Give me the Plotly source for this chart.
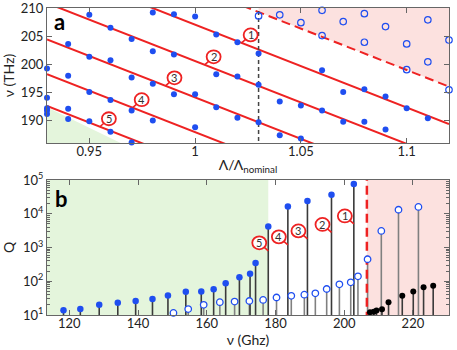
import plotly.graph_objects as go
import math

# ---------------- Panel a data ----------------
lam_filled = [0.93, 0.93, 0.93, 0.93, 0.93,
              0.94, 0.94, 0.94, 0.94,
              0.95, 0.95, 0.95, 0.95,
              0.96, 0.96, 0.96, 0.96,
              0.97, 0.97, 0.97, 0.97,
              0.98, 0.98, 0.98, 0.98,
              0.99, 0.99, 0.99,
              1.00, 1.00, 1.00,
              1.01, 1.01, 1.01,
              1.02, 1.02, 1.02,
              1.03, 1.03, 1.03,
              1.04, 1.04,
              1.05, 1.05,
              1.06, 1.06,
              1.07, 1.07,
              1.08, 1.08,
              1.09, 1.09,
              1.10, 1.11]
nu_filled = [199.2, 194.0, 192.1, 191.7, 191.1,
             203.6, 197.9, 192.0, 190.2,
             208.8, 201.3, 195.0, 189.8,
             206.5, 200.7, 193.6, 187.9,
             204.5, 197.6, 191.7, 186.0,
             209.2, 202.3, 196.5, 189.9,
             208.9, 201.7, 194.6,
             208.5, 194.6, 188.7,
             205.3, 198.2, 192.3,
             203.9, 197.8, 190.4,
             201.9, 196.3, 189.6,
             193.3, 187.3,
             192.6, 186.7,
             198.9, 191.7,
             195.0, 189.7,
             195.5, 189.7,
             194.2, 188.3,
             192.1, 190.3]
lam_open = [1.03, 1.04, 1.05, 1.06, 1.06, 1.07, 1.08, 1.08, 1.09,
            1.10, 1.10, 1.11, 1.11, 1.12, 1.12]
nu_open = [208.6, 208.8, 207.4, 209.6, 205.1, 207.6, 209.0, 203.9, 206.7,
           203.6, 199.0, 207.9, 200.4, 204.3, 195.4]

line_names = ["1", "2", "3", "4", "5"]
line_nu_start = [217.4, 210.9, 204.4, 198.2, 192.5]   # value at lam_start
dashed_nu_start = 224.1
line_slope = -148.0
lam_start, lam_end = 0.93, 1.12
lam_cut = 1.03
label_lam = [1.022, 1.0045, 0.986, 0.9705, 0.955]
green_a_lam = [0.93, 0.93, 0.9697]
green_a_nu = [192.3, 185.0, 185.0]

# ---------------- Panel b data ----------------
nu_b_filled = [118.3, 123.2, 128.7, 134.1, 139.3, 144.2, 148.7, 153.9, 158.4,
               162.0, 165.5, 169.5, 172.6, 174.2, 177.9, 183.6, 189.3, 196.3, 202.8]
q_b_filled = [13.8, 15, 20, 23, 26, 30, 38, 49, 50,
              58, 87, 131, 166, 347, 4200, 16600, 24000, 37000, 77000]
nu_b_open = [150.3, 154.6, 159.1, 163.8, 168.1, 172.4, 176.4, 180.3, 184.6, 188.4,
             191.6, 194.9, 198.6, 201.9, 204.0, 206.8, 210.8, 215.8, 221.6]
q_b_open = [11.5, 15, 20, 24, 25, 26, 28, 33, 37, 40,
            44, 59, 81, 93, 140, 450, 3100, 13200, 16000]
nu_b_black = [207.5, 208.6, 209.4, 211.0, 212.9, 216.9, 220.1, 223.1, 225.9]
q_b_black = [12, 12.5, 13.5, 14.8, 24, 37, 50, 66, 74]
green_b_edge = 177.9
cutoff_b = 206.6
label_b_nu = [202.8, 196.3, 189.3, 183.6, 177.9]
label_b_q = [5000, 2800, 1800, 1200, 800]

# ---------------- Styles ----------------
BLUE = "#1f4ef0"
RED = "#ee2222"
GREEN = "#e4f5dc"
PINK = "#fce1df"
AXC = "#666666"
FONT = "Lato, 'Open Sans', sans-serif"

fig = go.Figure()

# Panel a shading
fig.add_trace(go.Scatter(x=green_a_lam, y=green_a_nu, fill="toself", fillcolor=GREEN,
                         mode="lines", line=dict(width=0), hoverinfo="skip",
                         xaxis="x", yaxis="y"))
def dashed_line(l):
    return dashed_nu_start + line_slope * (l - lam_start)
pink_x = [lam_cut, lam_end + 0.01, lam_end + 0.01, lam_cut]
pink_y = [211, 211, dashed_line(lam_end + 0.01), dashed_line(lam_cut)]
fig.add_trace(go.Scatter(x=pink_x, y=pink_y, fill="toself", fillcolor=PINK,
                         mode="lines", line=dict(width=0), hoverinfo="skip",
                         xaxis="x", yaxis="y"))

# Red mode lines
for v0 in line_nu_start:
    fig.add_trace(go.Scatter(x=[lam_start, lam_end],
                             y=[v0, v0 + line_slope * (lam_end - lam_start)],
                             mode="lines", line=dict(color=RED, width=2),
                             xaxis="x", yaxis="y"))
fig.add_trace(go.Scatter(x=[lam_start, lam_end],
                         y=[dashed_nu_start, dashed_line(lam_end)],
                         mode="lines", line=dict(color=RED, width=2, dash="9px,5px"),
                         xaxis="x", yaxis="y"))
# vertical black dashed line
fig.add_trace(go.Scatter(x=[lam_cut, lam_cut], y=[180, 215], mode="lines",
                         line=dict(color="#444444", width=1.5, dash="4px,3px"),
                         xaxis="x", yaxis="y"))

fig.add_trace(go.Scatter(x=lam_filled, y=nu_filled, mode="markers",
                         marker=dict(symbol="circle", size=6, color=BLUE),
                         cliponaxis=False, xaxis="x", yaxis="y"))
fig.add_trace(go.Scatter(x=lam_open, y=nu_open, mode="markers",
                         marker=dict(symbol="circle-open", size=6.5, color=BLUE,
                                     line=dict(width=1.2)),
                         cliponaxis=False, xaxis="x", yaxis="y"))

# Panel b shading
fig.add_trace(go.Scatter(x=[100, green_b_edge, green_b_edge, 100], y=[1, 1, 1e6, 1e6],
                         fill="toself", fillcolor=GREEN, mode="lines", line=dict(width=0),
                         hoverinfo="skip", xaxis="x2", yaxis="y2"))
fig.add_trace(go.Scatter(x=[cutoff_b, 240, 240, cutoff_b], y=[1, 1, 1e6, 1e6],
                         fill="toself", fillcolor=PINK, mode="lines", line=dict(width=0),
                         hoverinfo="skip", xaxis="x2", yaxis="y2"))

def stems(xs, ys):
    sx, sy = [], []
    for a, b in zip(xs, ys):
        sx += [a, a, None]
        sy += [1, b, None]
    return sx, sy

sx, sy = stems(nu_b_open, q_b_open)
fig.add_trace(go.Scatter(x=sx, y=sy, mode="lines", line=dict(color="#808080", width=1.6),
                         xaxis="x2", yaxis="y2"))
sx, sy = stems(nu_b_filled + nu_b_black, q_b_filled + q_b_black)
fig.add_trace(go.Scatter(x=sx, y=sy, mode="lines", line=dict(color="#3a3a3a", width=1.6),
                         xaxis="x2", yaxis="y2"))
fig.add_trace(go.Scatter(x=[cutoff_b, cutoff_b], y=[1, 1e6], mode="lines",
                         line=dict(color=RED, width=2.5, dash="9px,5px"),
                         xaxis="x2", yaxis="y2"))
fig.add_trace(go.Scatter(x=nu_b_filled, y=q_b_filled, mode="markers",
                         marker=dict(symbol="circle", size=6.5, color=BLUE),
                         cliponaxis=False, xaxis="x2", yaxis="y2"))
fig.add_trace(go.Scatter(x=nu_b_open, y=q_b_open, mode="markers",
                         marker=dict(symbol="circle", size=6.5, color="white",
                                     line=dict(color=BLUE, width=1.3)),
                         cliponaxis=False, xaxis="x2", yaxis="y2"))
fig.add_trace(go.Scatter(x=nu_b_black, y=q_b_black, mode="markers",
                         marker=dict(symbol="circle", size=6, color="black"),
                         cliponaxis=False, xaxis="x2", yaxis="y2"))

annotations = []
shapes = []
R = 7
# Panel a circled labels
for name, v0, lam in zip(line_names, line_nu_start, label_lam):
    y = v0 + line_slope * (lam - lam_start)
    ax, ay = 9, -8
    annotations.append(dict(x=lam, y=y, xref="x", yref="y", text=name, showarrow=True,
                            ax=ax, ay=ay, arrowhead=0, arrowwidth=1.6, arrowcolor=RED,
                            font=dict(size=11, color="#333333", family=FONT)))
    shapes.append(dict(type="circle", xref="x", yref="y", xsizemode="pixel",
                       ysizemode="pixel", xanchor=lam, yanchor=y,
                       x0=ax - R, x1=ax + R, y0=-ay - 6.5, y1=-ay + 6.5,
                       line=dict(color=RED, width=1.8), fillcolor="white", layer="above"))
# Panel b circled labels
for name, nu, q in zip(line_names, label_b_nu, label_b_q):
    ax, ay = -9, -8
    annotations.append(dict(x=nu, y=math.log10(q), xref="x2", yref="y2", text=name,
                            showarrow=True, ax=ax, ay=ay, arrowhead=0, arrowwidth=1.6,
                            arrowcolor=RED,
                            font=dict(size=11, color="#333333", family=FONT)))
    shapes.append(dict(type="circle", xref="x2", yref="y2", xsizemode="pixel",
                       ysizemode="pixel", xanchor=nu, yanchor=q,
                       x0=ax - R, x1=ax + R, y0=-ay - 6.5, y1=-ay + 6.5,
                       line=dict(color=RED, width=1.8), fillcolor="white", layer="above"))

annotations.append(dict(x=0.012, y=0.90, xref="x domain", yref="y domain", text="<b>a</b>",
                        showarrow=False, xanchor="left", yanchor="middle",
                        font=dict(size=22, color="black", family=FONT)))
annotations.append(dict(x=0.014, y=0.865, xref="x2 domain", yref="y2 domain", text="<b>b</b>",
                        showarrow=False, xanchor="left", yanchor="middle",
                        font=dict(size=22, color="black", family=FONT)))

axis_common = dict(showline=True, linecolor=AXC, linewidth=1, mirror="ticks",
                   ticks="inside", ticklen=5, tickcolor=AXC, showgrid=False,
                   zeroline=False, automargin=False, ticklabeloverflow="allow",
                   tickfont=dict(size=13, color="#222222", family=FONT))

minor_vals = [k * 10 ** d for d in range(1, 5) for k in range(2, 10)]

fig.update_layout(
    width=457, height=350, autosize=False,
    margin=dict(l=47, r=8, t=8, b=35),
    paper_bgcolor="white", plot_bgcolor="white",
    showlegend=False,
    font=dict(family=FONT, color="#222222"),
    xaxis=dict(domain=[0, 1], anchor="y", range=[lam_start, lam_end],
               tickvals=[0.95, 1, 1.05, 1.1], ticklabelstandoff=-4,
               title=dict(text="Λ/Λ<sub>nominal</sub>", standoff=2,
                          font=dict(size=14, family=FONT, color="#222222")),
               **axis_common),
    yaxis=dict(domain=[0.5603, 1], anchor="x", range=[185.9, 210.02],
               tickvals=[190, 195, 200, 205, 210],
               title=dict(text="ν (THz)", standoff=4,
                          font=dict(size=14, family=FONT, color="#222222")),
               **axis_common),
    xaxis2=dict(domain=[0, 1], anchor="y2", range=[113.5, 230.5],
                tickvals=[120, 140, 160, 180, 200, 220], ticklabelstandoff=-4,
                title=dict(text="ν (Ghz)", standoff=2,
                           font=dict(size=14, family=FONT, color="#222222")),
                **axis_common),
    yaxis2=dict(domain=[0, 0.4397], anchor="x2", type="log", range=[1, 5.002],
                tickvals=[10, 100, 1000, 1e4, 1e5],
                ticktext=["10<sup>1</sup>", "10<sup>2</sup>", "10<sup>3</sup>",
                          "10<sup>4</sup>", "10<sup>5</sup>"],
                minor=dict(tickvals=minor_vals, ticks="inside", ticklen=3, tickcolor=AXC),
                title=dict(text="Q", standoff=6,
                           font=dict(size=14, family=FONT, color="#222222")),
                **axis_common),
    annotations=annotations,
    shapes=shapes,
)

fig.write_html("out.html", config={"displayModeBar": False},
               post_script="document.body.style.margin='0';document.body.style.padding='0';")
